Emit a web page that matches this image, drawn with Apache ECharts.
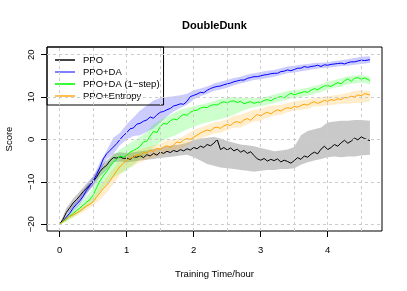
<!DOCTYPE html>
<html><head><meta charset="utf-8">
<script src="https://cdn.jsdelivr.net/npm/echarts@6/dist/echarts.min.js"></script>
<style>html,body{margin:0;padding:0;background:#fff}#c{width:407px;height:291px}</style>
</head><body><div id="c"></div>
<script>
// time (hours) for the mean curves
const tMean = [0,0.05,0.1,0.15,0.2,0.25,0.3,0.35,0.4,0.45,
0.5,0.55,0.6,0.65,0.7,0.75,0.8,0.85,0.9,0.95,
1,1.05,1.1,1.15,1.2,1.25,1.3,1.35,1.4,1.45,
1.5,1.55,1.6,1.65,1.7,1.75,1.8,1.85,1.9,1.95,
2,2.05,2.1,2.15,2.2,2.25,2.3,2.35,2.4,2.45,
2.5,2.55,2.6,2.65,2.7,2.75,2.8,2.85,2.9,2.95,
3,3.05,3.1,3.15,3.2,3.25,3.3,3.35,3.4,3.45,
3.5,3.55,3.6,3.65,3.7,3.75,3.8,3.85,3.9,3.95,
4,4.05,4.1,4.15,4.2,4.25,4.3,4.35,4.4,4.45,
4.5,4.55,4.63];

const ppo = [-20,-18.8,-17.2,-16.1,-15.0,-14.2,-13.3,-12.3,-11.5,-10.7,
-9.9,-8.9,-7.6,-6.7,-6.1,-5.0,-4.3,-4.4,-4.1,-4.5,
-4.4,-4.7,-4.1,-4.2,-3.8,-4.3,-3.6,-3.9,-3.3,-3.7,
-3.0,-3.3,-2.8,-3.1,-2.6,-2.9,-2.4,-2.7,-2.2,-2.5,
-1.9,-2.2,-1.6,-1.9,-1.2,-1.5,-0.9,0.0,-2.4,-1.9,
-2.5,-2.0,-2.7,-2.3,-3.0,-2.6,-3.3,-2.9,-3.8,-4.6,
-4.9,-4.5,-5.1,-4.7,-5.0,-4.6,-5.3,-4.9,-5.2,-5.6,
-5.0,-4.3,-4.7,-3.9,-4.2,-3.5,-3.0,-3.4,-2.3,-1.6,
-2.4,-1.9,-1.2,-1.6,-0.8,-0.2,-0.9,-0.4,0.3,-0.1,
0.6,0.2,-0.3];

const ppoDA = [-20,-19.2,-18.3,-17.4,-16.2,-15.3,-14.5,-13.4,-12.0,-10.9,
-9.8,-8.3,-6.6,-4.6,-3.4,-2.6,-1.8,-1.0,0.0,0.9,
1.6,2.5,2.7,3.6,3.8,4.3,4.6,5.3,5.0,5.8,
6.4,6.6,7.0,7.3,7.9,8.1,8.4,8.3,9.0,10.1,
10.4,10.7,11.1,11.0,11.6,12.0,12.3,12.5,12.6,12.9,
13.1,13.3,13.6,13.8,14.0,14.0,14.4,14.6,14.8,14.8,
15.0,15.2,15.3,15.5,15.6,15.6,16.0,16.1,16.4,16.2,
16.5,16.8,16.8,17.2,17.0,17.2,17.3,17.5,17.2,17.6,
17.5,17.7,17.8,17.9,18.0,17.8,18.1,18.3,18.3,18.5,
18.7,18.6,18.8];

const ppoDA1 = [-20,-19.4,-18.8,-18.1,-17.5,-16.8,-16.2,-15.5,-14.8,-14.2,
-13.1,-11.4,-9.8,-8.6,-7.6,-6.4,-5.4,-4.7,-3.9,-4.2,
-3.8,-3.0,-2.6,-2.2,-1.6,-0.6,-0.4,0.8,1.9,1.6,
3.0,3.8,3.6,4.4,4.8,4.6,5.4,5.9,5.7,6.4,
6.8,6.9,7.4,7.6,7.5,8.0,8.2,8.1,8.6,8.9,
8.6,9.0,9.1,8.7,9.0,8.4,8.7,8.9,8.5,8.8,
8.7,9.2,9.4,9.1,9.6,9.9,10.1,9.8,10.4,10.9,
10.5,10.8,11.0,11.3,11.1,11.6,12.0,11.7,12.2,12.6,
12.7,12.5,13.0,13.4,13.1,13.8,14.3,13.7,14.4,14.6,
14.2,14.5,13.9];

const ppoEnt = [-20,-19.3,-18.7,-18.2,-17.8,-17.4,-16.9,-16.3,-15.7,-15.3,
-14.7,-13.6,-12.6,-11.6,-10.8,-9.8,-8.6,-7.4,-6.4,-5.6,
-5.0,-4.4,-4.2,-3.6,-3.8,-3.0,-3.2,-2.6,-2.8,-2.1,
-2.4,-1.8,-1.5,-1.9,-1.3,-0.6,-0.8,-0.1,0.2,0.0,
0.5,1.0,1.5,1.9,2.2,2.0,2.7,2.9,2.6,3.2,
3.5,3.3,4.0,4.2,3.9,4.6,4.9,4.5,5.3,5.9,
5.5,6.1,6.4,6.0,6.6,7.0,6.7,7.2,7.5,7.3,
7.8,7.6,8.0,8.3,8.1,8.6,8.9,8.5,8.8,9.2,
9.0,9.4,9.2,9.6,9.4,9.9,9.8,10.2,10.0,10.5,
10.3,10.8,10.5];

// time (hours) for the shaded bands
const tBand = [0,0.1,0.2,0.3,0.4,0.5,0.6,0.7,0.8,0.9,
1,1.1,1.2,1.3,1.4,1.5,1.6,1.7,1.8,1.9,
2,2.1,2.2,2.3,2.4,2.5,2.6,2.7,2.8,2.9,
3,3.1,3.2,3.3,3.4,3.5,3.6,3.7,3.8,3.9,
4,4.1,4.2,4.3,4.4,4.5,4.63];

const ppoLo = [-20,-17.8,-16.0,-14.4,-12.6,-11.0,-8.8,-7.2,-5.4,-5.2,
-5.4,-5.2,-5.0,-4.8,-4.6,-4.4,-4.2,-4.0,-3.8,-3.6,
-4.2,-5.0,-5.8,-6.2,-6.6,-6.8,-7.0,-7.2,-7.4,-7.6,
-7.4,-7.2,-7.2,-7.0,-7.0,-6.8,-6.0,-5.4,-5.0,-4.6,
-4.2,-4.0,-4.2,-4.0,-4.0,-3.8,-3.6];
const ppoHi = [-20,-16.2,-14.0,-12.2,-10.4,-8.6,-6.4,-5.0,-3.4,-3.0,
-3.2,-3.0,-2.8,-2.6,-2.2,-2.0,-1.6,-1.4,-1.2,-0.8,
-0.2,0.2,0.4,0.6,0.2,-0.4,-0.8,-1.2,-1.4,-1.6,
-2.0,-2.4,-2.8,-2.6,-2.4,-1.8,1.0,2.0,2.4,2.8,
4.0,4.2,4.4,4.4,4.6,4.6,4.4];

const ppoDALo = [-20,-18.8,-17.0,-15.4,-13.0,-10.8,-7.8,-4.6,-3.4,-1.4,
0.0,0.8,1.0,1.8,2.6,4.0,5.4,6.6,7.4,8.2,
9.4,10.2,10.8,11.4,11.8,12.2,12.8,13.2,13.6,14.0,
14.2,14.5,14.8,15.2,15.6,15.8,16.1,16.3,16.6,16.8,
16.9,17.1,17.3,17.4,17.6,17.8,18.0];
const ppoDAHi = [-20,-17.8,-15.4,-13.6,-11.0,-8.8,-5.4,-2.6,0.4,1.6,
3.6,5.2,6.8,8.0,9.2,9.8,10.0,10.2,10.4,10.8,
11.6,12.0,12.5,13.2,13.6,14.0,14.5,14.8,15.3,15.6,
15.9,16.2,16.4,16.8,17.2,17.4,17.6,17.8,18.0,18.1,
18.2,18.5,18.7,18.9,19.2,19.5,19.6];

const ppoDA1Lo = [-20,-19.4,-18.4,-17.2,-16.0,-14.6,-12.4,-10.6,-9.0,-8.0,
-7.4,-6.0,-4.6,-3.4,-1.8,-0.8,0.2,0.8,1.6,2.4,
3.0,3.6,4.0,4.4,4.8,5.2,5.8,6.6,7.2,7.6,
7.8,8.2,8.6,9.0,9.4,9.8,10.0,10.3,10.8,11.2,
11.8,12.2,12.4,13.0,13.2,13.4,13.0];
const ppoDA1Hi = [-20,-18.2,-16.6,-15.0,-13.4,-11.4,-7.6,-5.6,-3.8,-2.4,
-1.4,-0.4,0.6,1.8,3.6,4.6,5.4,6.2,7.0,7.4,
7.8,8.2,8.6,9.0,9.6,9.8,10.0,9.8,9.8,9.7,
9.8,10.2,10.6,11.0,11.4,11.6,11.9,12.2,12.6,13.0,
13.6,14.0,14.4,14.9,15.1,15.2,14.8];

const ppoEntLo = [-20,-19.2,-18.4,-17.6,-16.6,-15.6,-14.2,-12.6,-10.6,-8.4,
-6.8,-6.2,-5.4,-4.8,-4.2,-3.8,-3.0,-2.6,-2.4,-1.4,
-0.4,0.2,0.8,1.4,1.6,2.2,2.8,2.8,3.6,4.2,
4.4,5.2,5.6,5.8,6.4,6.8,7.0,7.2,7.8,7.8,
8.0,8.2,8.4,8.4,8.6,8.6,9.0];
const ppoEntHi = [-20,-18.2,-17.2,-16.2,-14.8,-13.6,-11.0,-9.0,-6.8,-4.8,
-3.4,-2.8,-2.4,-1.8,-1.4,-1.0,-0.2,0.0,0.4,1.2,
2.2,2.8,3.4,4.0,4.2,4.8,5.6,5.8,6.4,7.0,
7.2,7.8,8.0,8.2,8.6,9.0,9.2,9.4,9.8,10.0,
10.2,10.4,10.6,11.0,11.4,11.6,11.4];

const seriesNames = ['PPO', 'PPO+DA', 'PPO+DA (1\u2212step)', 'PPO+Entropy'];
const xTicks = [0, 1, 2, 3, 4];
const yTicks = [-20, -10, 0, 10, 20];
const xGrid = [0, 0.5, 1, 1.5, 2, 2.5, 3, 3.5, 4, 4.5];
const yGrid = [-20, -10, 0, 10, 20];

const FONT = 'Liberation Sans, Arial, Helvetica, sans-serif';
const lineColors = ['#000000', '#0000ff', '#00ff00', '#ffa500'];
const bandColors = ['rgba(0,0,0,0.21)', 'rgba(0,0,255,0.2)', 'rgba(0,255,0,0.2)', 'rgba(255,165,0,0.2)'];
const legendColors = ['#444444', '#8080ff', '#33ff33', '#ffc050'];
const means = [ppo, ppoDA, ppoDA1, ppoEnt];
const bands = [[ppoLo, ppoHi], [ppoDALo, ppoDAHi], [ppoDA1Lo, ppoDA1Hi], [ppoEntLo, ppoEntHi]];

function bandSeries(lo, hi, color) {
  return {
    type: 'custom', z: 2, silent: true, animation: false,
    data: tBand.map((t, i) => [t, lo[i], hi[i]]),
    encode: { x: 0, y: [1, 2] },
    renderItem: function (params, api) {
      if (params.dataIndex !== 0) return null;
      const pts = [];
      for (let i = 0; i < tBand.length; i++) pts.push(api.coord([tBand[i], hi[i]]));
      for (let i = tBand.length - 1; i >= 0; i--) pts.push(api.coord([tBand[i], lo[i]]));
      return { type: 'polygon', shape: { points: pts }, style: { fill: color } };
    }
  };
}

const series = [];
series.push({
  type: 'line', data: [], z: 1, silent: true,
  markLine: {
    silent: true, symbol: ['none', 'none'], label: { show: false }, animation: false,
    lineStyle: { color: '#cccccc', type: [3, 3], width: 1 },
    emphasis: { disabled: true },
    data: xGrid.map(v => ({ xAxis: v })).concat(yGrid.map(v => ({ yAxis: v })))
  }
});
bands.forEach((b, k) => series.push(bandSeries(b[0], b[1], bandColors[k])));
means.forEach((m, k) => series.push({
  name: seriesNames[k], type: 'line', z: 3, symbol: 'none', animation: false,
  data: tMean.map((t, i) => [t, m[i]]),
  lineStyle: { color: lineColors[k], width: 1 },
  itemStyle: { color: lineColors[k] }
}));

const minus = v => String(v).replace('-', '\u2212');
const chart = echarts.init(document.getElementById('c'));
chart.setOption({
  animation: false,
  backgroundColor: '#ffffff',
  textStyle: { fontFamily: FONT },
  title: {
    text: 'DoubleDunk', left: 214.5, top: 20, textAlign: 'center', padding: 0,
    textStyle: { fontSize: 11, fontWeight: 'bold', color: '#000', fontFamily: FONT }
  },
  legend: {
    left: 47, top: 47, orient: 'vertical', selectedMode: false,
    borderColor: '#000', borderWidth: 1, padding: [7, 4, 3, 8], itemGap: 0,
    itemWidth: 20, itemHeight: 2, icon: 'rect',
    textStyle: { fontSize: 9.5, lineHeight: 12, color: '#000', fontFamily: FONT, padding: [0, 0, 0, 3] },
    data: seriesNames.map((n, k) => ({ name: n, itemStyle: { color: legendColors[k] } }))
  },
  grid: {
    left: 47, top: 47, right: 25, bottom: 60, show: true,
    borderColor: '#000', borderWidth: 1, backgroundColor: 'transparent', outerBoundsMode: 'none'
  },
  xAxis: {
    type: 'value', min: -0.19, max: 4.81,
    axisLine: { show: false, onZero: false },
    axisTick: { show: true, length: 6, customValues: xTicks, lineStyle: { color: '#000' } },
    axisLabel: { customValues: xTicks, fontSize: 9.5, color: '#000', margin: 14, fontFamily: FONT },
    splitLine: { show: false },
    name: 'Training Time/hour', nameLocation: 'middle', nameGap: 38,
    nameTextStyle: { fontSize: 9.5, color: '#000', fontFamily: FONT }
  },
  yAxis: {
    type: 'value', min: -21.6, max: 21.8,
    axisLine: { show: false, onZero: false },
    axisTick: { show: true, length: 6, customValues: yTicks, lineStyle: { color: '#000' } },
    axisLabel: { customValues: yTicks, fontSize: 9.5, color: '#000', margin: 11, rotate: 90, fontFamily: FONT, formatter: minus },
    splitLine: { show: false },
    name: 'Score', nameLocation: 'middle', nameGap: 33,
    nameTextStyle: { fontSize: 9.5, color: '#000', fontFamily: FONT }
  },
  series: series
});
</script>
</body></html>
